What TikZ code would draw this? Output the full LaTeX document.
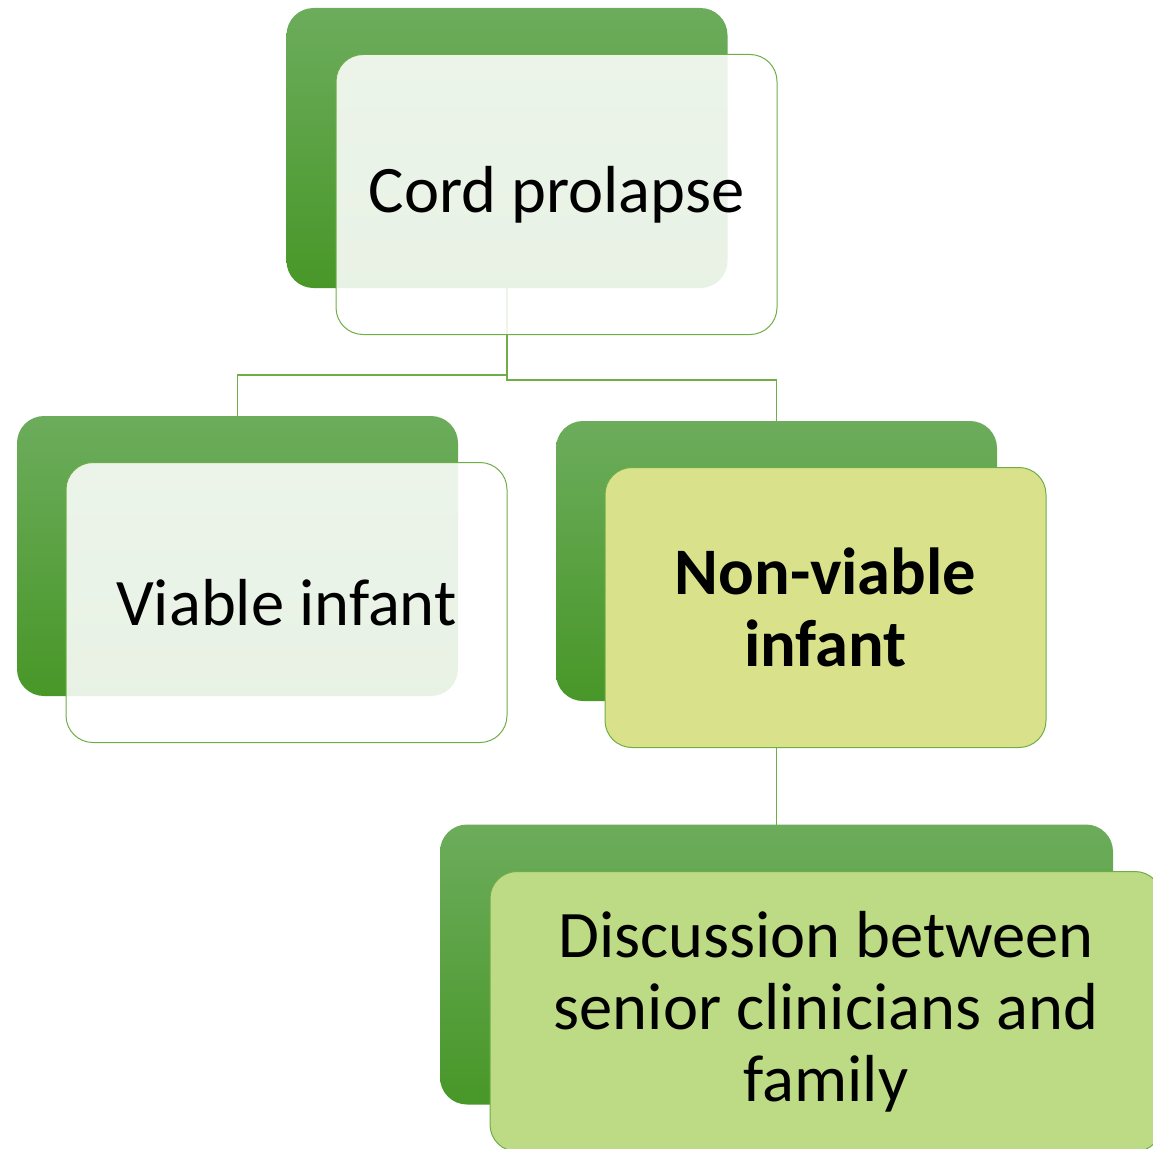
\documentclass[tikz,border=0pt]{standalone}
\usepackage{fontspec}
\setmainfont{Carlito}
\definecolor{shadetop}{RGB}{108,172,92}
\definecolor{shadebot}{RGB}{72,151,40}
\definecolor{linegreen}{RGB}{112,173,71}
\definecolor{lime}{RGB}{217,226,138}
\definecolor{leaf}{RGB}{189,218,132}
\tikzset{
  base/.style={rectangle, rounded corners=27pt, inner sep=0pt, outer sep=0pt,
    minimum width=441pt, minimum height=280pt},
  backbox/.style={base, top color=shadetop, bottom color=shadebot, draw=none},
  frontbox/.style={base, draw=linegreen, line width=1pt, align=center,
    font=\fontsize{66.5}{72}\selectfont},
  paleface/.style={frontbox, fill=white, fill opacity=0.88, text opacity=1},
  link/.style={draw=linegreen, line width=1.3pt},
}
\begin{document}
\begin{tikzpicture}[x=1pt, y=-1pt]
\useasboundingbox (0,0) rectangle (1153,1148);
\clip (0,0) rectangle (1153,1148);

% back panels
\node[backbox] (b1) at (507,148) {};
\node[backbox] (b2) at (237.5,556) {};
\node[backbox] (b3) at (776.5,561) {};
\node[backbox, minimum width=673pt] (b4) at (776.5,964.5) {};

% connectors
\draw[link] (b1.south) |- (507,375) -| (b2.north);
\draw[link] (b1.south) |- (507,380) -| (b3.north);
\draw[link] (b3.south) -- (b4.north);

% front panels
\node[paleface] (f1) at (556.5,194.5) {\raisebox{-2pt}{Cord prolapse}};
\node[paleface] (f2) at (286.5,602.5) {Viable infant};
\node[frontbox, fill=lime, font=\fontsize{66.5}{72}\selectfont\bfseries] (f3) at (825.5,607.5) {Non-viable\\infant};
\node[frontbox, fill=leaf, minimum width=672pt] (f4) at (826,1011.5) {Discussion between\\senior clinicians and\\family};
\end{tikzpicture}
\end{document}
